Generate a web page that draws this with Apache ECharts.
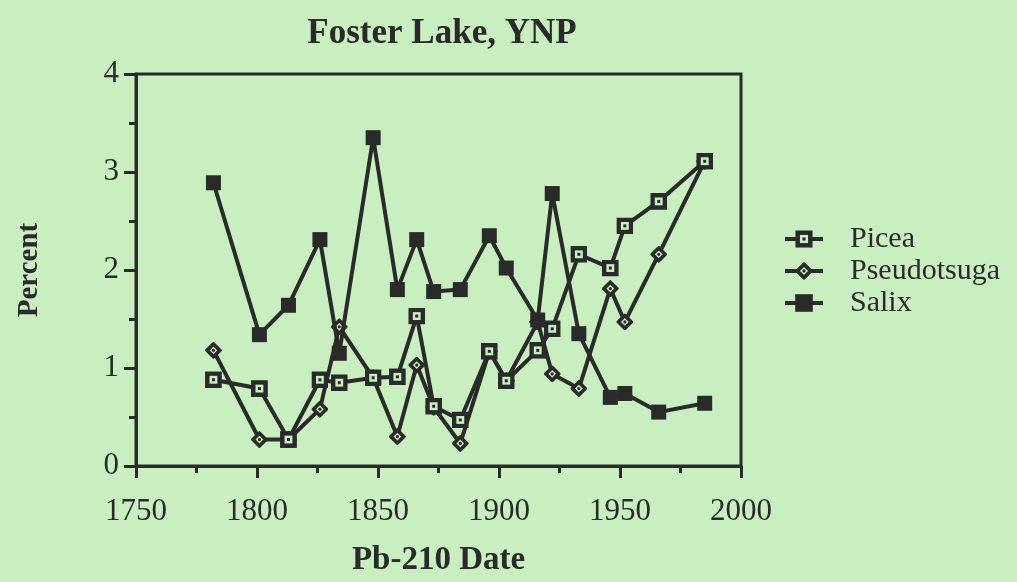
<!DOCTYPE html>
<html>
<head>
<meta charset="utf-8">
<script src="https://cdn.jsdelivr.net/npm/echarts@6/dist/echarts.min.js"></script>
<style>
  html, body { margin: 0; padding: 0; background: #c9efc1; }
  #main { width: 1017px; height: 582px; }
</style>
</head>
<body>
<div id="main"></div>
<script>
    // Pb-210 dates and pollen percentages
    var years = [1782, 1801, 1813, 1826, 1834, 1848, 1858, 1866, 1873, 1884, 1896, 1903, 1916, 1922, 1933, 1946, 1952, 1966, 1985];
    var picea = [0.88, 0.79, 0.27, 0.88, 0.85, 0.90, 0.91, 1.53, 0.61, 0.47, 1.17, 0.87, 1.18, 1.40, 2.16, 2.02, 2.45, 2.70, 3.11];
    var pseudotsuga = [1.18, 0.27, 0.27, 0.58, 1.42, 0.90, 0.30, 1.03, 0.60, 0.23, 1.17, 0.87, 1.47, 0.94, 0.79, 1.81, 1.47, 2.16, 3.11];
    var salix = [2.89, 1.34, 1.64, 2.31, 1.15, 3.35, 1.80, 2.31, 1.78, 1.80, 2.35, 2.02, 1.49, 2.78, 1.35, 0.70, 0.74, 0.55, 0.64];

    var ink = '#2a2a2a';
    var bg = '#c9efc1';
    var serif = 'Liberation Serif';

    function pairs(vals) {
        var out = [];
        for (var i = 0; i < years.length; i++) {
            out.push([years[i], vals[i]]);
        }
        return out;
    }

    // open square with a dot, open diamond with a dot
    var sqSvg = '<svg xmlns="http://www.w3.org/2000/svg" width="32" height="32" viewBox="0 0 16 16">' +
        '<rect x="2.2" y="2.2" width="11.6" height="11.6" fill="' + bg + '" stroke="' + ink + '" stroke-width="4.2"/>' +
        '<rect x="6.6" y="6.6" width="2.8" height="2.8" fill="' + ink + '"/></svg>';
    var dmSvg = '<svg xmlns="http://www.w3.org/2000/svg" width="32" height="32" viewBox="0 0 16 16">' +
        '<polygon points="8,2 14,8 8,14 2,8" fill="' + bg + '" stroke="' + ink + '" stroke-width="3.4"/>' +
        '<circle cx="8" cy="8" r="1.5" fill="' + ink + '"/></svg>';
    var sqIcon = 'image://data:image/svg+xml;charset=utf-8,' + encodeURIComponent(sqSvg);
    var dmIcon = 'image://data:image/svg+xml;charset=utf-8,' + encodeURIComponent(dmSvg);

    var myChart = echarts.init(document.getElementById('main'));

    myChart.setOption({
        backgroundColor: bg,
        animation: false,
        title: {
            text: 'Foster Lake, YNP',
            left: 437,
            textAlign: 'center',
            top: 11,
            textStyle: { fontFamily: serif, fontSize: 35, fontWeight: 'bold', color: ink }
        },
        legend: {
            orient: 'vertical',
            left: 778,
            top: 219,
            itemWidth: 38,
            itemHeight: 22,
            itemGap: 2,
            data: ['Picea', 'Pseudotsuga', 'Salix'],
            lineStyle: { width: 4 },
            textStyle: { fontFamily: serif, fontSize: 30, lineHeight: 30, color: ink, padding: [0, 0, 0, 22] }
        },
        grid: {
            left: 136,
            right: 276,
            top: 74,
            bottom: 116,
            show: true,
            borderColor: ink,
            borderWidth: 3,
            backgroundColor: 'transparent'
        },
        xAxis: {
            type: 'value',
            min: 1750,
            max: 2000,
            interval: 50,
            name: 'Pb-210 Date',
            nameLocation: 'middle',
            nameGap: 78,
            nameTextStyle: { fontFamily: serif, fontSize: 33, fontWeight: 'bold', color: ink },
            axisLine: { lineStyle: { color: ink, width: 3 } },
            axisTick: { length: 12, lineStyle: { color: ink, width: 3 } },
            minorTick: { show: true, splitNumber: 2, length: 7, lineStyle: { color: ink, width: 3 } },
            axisLabel: {
                fontFamily: serif, fontSize: 31, color: ink, margin: 30,
                formatter: function (v) { return String(v); }
            },
            splitLine: { show: false }
        },
        yAxis: {
            type: 'value',
            min: 0,
            max: 4,
            interval: 1,
            name: 'Percent',
            nameLocation: 'middle',
            nameGap: 92,
            nameTextStyle: { fontFamily: serif, fontSize: 29, fontWeight: 'bold', color: ink },
            axisLine: { show: true, lineStyle: { color: ink, width: 3 } },
            axisTick: { show: true, length: 12, lineStyle: { color: ink, width: 3 } },
            minorTick: { show: true, splitNumber: 2, length: 7, lineStyle: { color: ink, width: 3 } },
            axisLabel: { fontFamily: serif, fontSize: 31, color: ink, margin: 17 },
            splitLine: { show: false }
        },
        series: [
            {
                name: 'Picea',
                type: 'line',
                data: pairs(picea),
                symbol: sqIcon,
                symbolSize: 17,
                z: 3,
                lineStyle: { color: ink, width: 4 },
                itemStyle: { color: ink }
            },
            {
                name: 'Pseudotsuga',
                type: 'line',
                data: pairs(pseudotsuga),
                symbol: dmIcon,
                symbolSize: 17,
                z: 2,
                lineStyle: { color: ink, width: 4 },
                itemStyle: { color: ink }
            },
            {
                name: 'Salix',
                type: 'line',
                data: pairs(salix),
                symbol: 'rect',
                symbolSize: 15,
                z: 4,
                lineStyle: { color: ink, width: 4 },
                itemStyle: { color: ink }
            }
        ]
    });
</script>
</body>
</html>
